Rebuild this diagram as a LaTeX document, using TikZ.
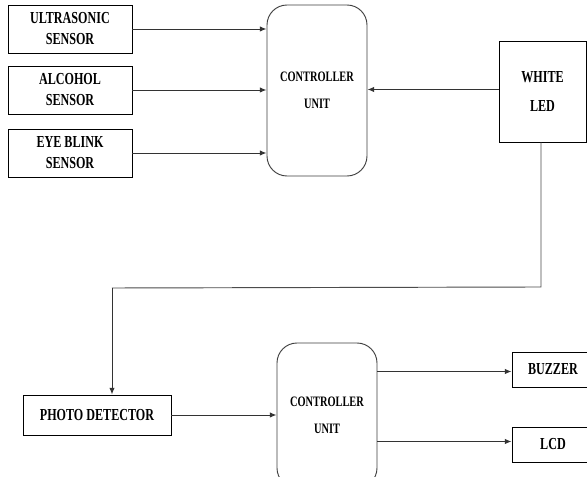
\documentclass[tikz,border=0pt]{standalone}
\usepackage{fontspec}
\setmainfont{Liberation Serif}[FakeStretch=0.72]
\usetikzlibrary{arrows.meta}
\begin{document}
\begin{tikzpicture}[x=0.75pt,y=-0.75pt,
  box/.style={draw=black, line width=0.7pt, inner sep=0pt, align=center,
    font=\fontsize{12.6}{15.75}\selectfont\bfseries},
  ctrl/.style={draw=black!75, line width=0.7pt, rounded corners=15pt, inner sep=0pt,
    align=center, minimum width=75pt,
    font=\fontsize{10.8}{20}\selectfont\bfseries},
  conn/.style={draw=black!80, line width=0.7pt, -{Latex[length=5pt,width=4pt]}},
  wire/.style={draw=black!70, line width=0.7pt}]
\useasboundingbox (0,0) rectangle (587,477);
\clip (0,0) rectangle (587,477);
\fill[white] (0,0) rectangle (587,477);
% top row
\node[box, minimum width=93pt, minimum height=36pt] (us) at (70,29) {ULTRASONIC\\SENSOR};
\node[box, minimum width=93pt, minimum height=36pt] (al) at (70,90) {ALCOHOL\\SENSOR};
\node[box, minimum width=93pt, minimum height=36pt] (eb) at (70,153) {EYE BLINK\\SENSOR};
\node[ctrl, minimum height=128.25pt] (c1) at (317,90.5) {CONTROLLER\\UNIT};
\node[box, minimum width=65.25pt, minimum height=75.75pt,
  font=\fontsize{12.6}{21.75}\selectfont\bfseries] (led) at (542.5,91.5) {WHITE\\LED};
% bottom row
\node[box, minimum width=111pt, minimum height=30pt] (pd) at (97,415) {PHOTO DETECTOR};
\node[ctrl, minimum height=108.75pt] (c2) at (327,415.5) {CONTROLLER\\UNIT};
\node[box, minimum width=61.5pt, minimum height=26.25pt] (bz) at (553,369.5) {BUZZER};
\node[box, minimum width=61.5pt, minimum height=26.25pt] (lcd) at (553,444.5) {LCD};
\coordinate (k1) at (541,287);
\coordinate (k2) at (112,288);
% connectors
\draw[conn] (us.east) -- (us.east -| c1.west);
\draw[conn] (al.east) -- (al.east -| c1.west);
\draw[conn] (eb.east) -- (eb.east -| c1.west);
\draw[conn] ([yshift=1.5pt]led.west) -- ([yshift=1.5pt]led.west -| c1.east);
\draw[wire] (led.south -| k1) -- (k1) -- (k2);
\draw[conn] (k2) -- (k2 |- pd.north);
\draw[conn] (pd.east) -- (pd.east -| c2.west);
\draw[conn] (c2.east |- bz.west) ++(0,2) -- ([yshift=-1.5pt]bz.west);
\draw[conn] (c2.east |- lcd.west) ++(0,-3) -- ([yshift=2.25pt]lcd.west);
\end{tikzpicture}
\end{document}
